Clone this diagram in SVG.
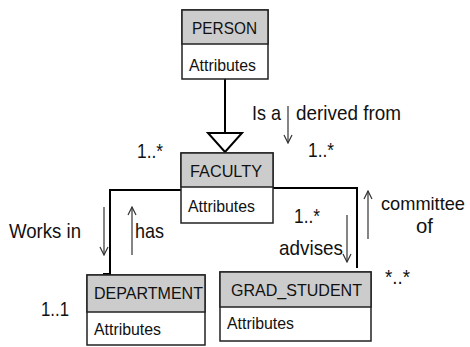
<svg xmlns="http://www.w3.org/2000/svg" width="470" height="347" viewBox="0 0 470 347">
  <defs>
    <style>
      .box { fill: #ffffff; stroke: #222222; stroke-width: 1.5; }
      .head { fill: #cccccc; stroke: #222222; stroke-width: 1.5; }
      .name { font-family: "Liberation Sans", Arial, sans-serif; font-size: 17px; fill: #111111; }
      .attr { font-family: "Liberation Sans", Arial, sans-serif; font-size: 17px; fill: #111111; }
      .lbl { font-family: "Liberation Sans", Arial, sans-serif; font-size: 21px; fill: #111111; }
      .conn { fill: none; stroke: #000000; stroke-width: 2; }
      .dir { fill: none; stroke: #333333; stroke-width: 1.2; }
    </style>
    <marker id="open" viewBox="0 0 10 10" refX="9" refY="5" markerWidth="10" markerHeight="10" markerUnits="userSpaceOnUse" orient="auto">
      <path d="M1,1 L9,5 L1,9" fill="none" stroke="#333333" stroke-width="1.2"/>
    </marker>
  </defs>

  <!-- connectors -->
  <g id="connectors">
    <line class="conn" x1="225" y1="79" x2="225" y2="133"/>
    <polygon points="208,133 242,133 225,152" fill="#ffffff" stroke="#000000" stroke-width="2"/>
    <polyline class="conn" points="182,190 110,190 110,274 103,274"/>
    <polyline class="conn" points="273,188 357,188 357,268"/>
  </g>

  <!-- direction arrows and role labels -->
  <g id="labels">
    <text class="lbl" x="252" y="120" textLength="29" lengthAdjust="spacingAndGlyphs">Is a</text>
    <line class="dir" x1="288" y1="106" x2="288" y2="143" marker-end="url(#open)"/>
    <text class="lbl" x="296" y="120" textLength="105" lengthAdjust="spacingAndGlyphs">derived from</text>
    <text class="lbl" x="137" y="158" textLength="26" lengthAdjust="spacingAndGlyphs">1..*</text>
    <text class="lbl" x="308" y="157" textLength="26" lengthAdjust="spacingAndGlyphs">1..*</text>

    <text class="lbl" x="9" y="238" textLength="72" lengthAdjust="spacingAndGlyphs">Works in</text>
    <line class="dir" x1="104" y1="207" x2="104" y2="255" marker-end="url(#open)"/>
    <line class="dir" x1="132" y1="255" x2="132" y2="207" marker-end="url(#open)"/>
    <text class="lbl" x="135" y="238" textLength="29" lengthAdjust="spacingAndGlyphs">has</text>
    <text class="lbl" x="41" y="316" textLength="28" lengthAdjust="spacingAndGlyphs">1..1</text>

    <text class="lbl" x="294" y="223" textLength="26" lengthAdjust="spacingAndGlyphs">1..*</text>
    <text class="lbl" x="279" y="255" textLength="64" lengthAdjust="spacingAndGlyphs">advises</text>
    <line class="dir" x1="347" y1="215" x2="347" y2="262" marker-end="url(#open)"/>
    <line class="dir" x1="368" y1="239" x2="368" y2="191" marker-end="url(#open)"/>
    <text class="lbl" x="381" y="210" font-size="19" textLength="84" lengthAdjust="spacingAndGlyphs" style="font-size:19px">committee</text>
    <text class="lbl" x="416" y="233" textLength="17" lengthAdjust="spacingAndGlyphs">of</text>
    <text class="lbl" x="385" y="284" textLength="25" lengthAdjust="spacingAndGlyphs">*..*</text>
  </g>

  <!-- classes -->
  <g id="person">
    <rect class="box" x="182" y="10" width="86" height="69"/>
    <rect class="head" x="182" y="10" width="86" height="34"/>
    <text class="name" x="192" y="34" textLength="65" lengthAdjust="spacingAndGlyphs">PERSON</text>
    <text class="attr" x="189" y="71" textLength="67" lengthAdjust="spacingAndGlyphs">Attributes</text>
  </g>

  <g id="faculty">
    <rect class="box" x="181" y="153" width="92" height="70"/>
    <rect class="head" x="181" y="153" width="92" height="34"/>
    <text class="name" x="190" y="177" textLength="72" lengthAdjust="spacingAndGlyphs">FACULTY</text>
    <text class="attr" x="188" y="212" textLength="67" lengthAdjust="spacingAndGlyphs">Attributes</text>
  </g>

  <g id="department">
    <rect class="box" x="87" y="275" width="118" height="70"/>
    <rect class="head" x="87" y="275" width="118" height="37"/>
    <text class="name" x="94" y="299" textLength="109" lengthAdjust="spacingAndGlyphs">DEPARTMENT</text>
    <text class="attr" x="94" y="335" textLength="67" lengthAdjust="spacingAndGlyphs">Attributes</text>
  </g>

  <g id="grad_student">
    <rect class="box" x="220" y="272" width="151" height="69"/>
    <rect class="head" x="220" y="272" width="151" height="35"/>
    <text class="name" x="231" y="296" textLength="131" lengthAdjust="spacingAndGlyphs">GRAD_STUDENT</text>
    <text class="attr" x="227" y="329" textLength="67" lengthAdjust="spacingAndGlyphs">Attributes</text>
  </g>
</svg>
